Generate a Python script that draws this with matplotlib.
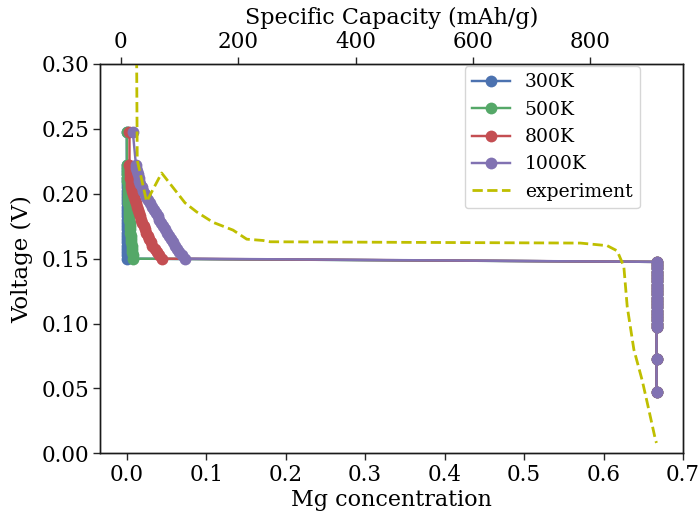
import matplotlib
matplotlib.use("Agg")
import matplotlib.pyplot as plt

plt.rcParams['font.family'] = ['DejaVu Serif']

# ---------------- data ----------------
# simulated voltage grid (V), shared by all temperatures (curve part)
curve_voltage = [0.2475, 0.2225, 0.2200, 0.2175, 0.2150, 0.2125, 0.2100, 0.2075,
                 0.2050, 0.2025, 0.2000, 0.1975, 0.1950, 0.1925, 0.1900, 0.1875,
                 0.1850, 0.1825, 0.1800, 0.1775, 0.1750, 0.1725, 0.1700, 0.1675,
                 0.1650, 0.1625, 0.1600, 0.1575, 0.1550, 0.1525, 0.1500]

conc_300K = [0.0000, 0.0000, 0.0000, 0.0000, 0.0000, 0.0000, 0.0001, 0.0001,
             0.0001, 0.0001, 0.0001, 0.0001, 0.0001, 0.0001, 0.0002, 0.0002,
             0.0002, 0.0002, 0.0002, 0.0002, 0.0003, 0.0003, 0.0003, 0.0003,
             0.0003, 0.0004, 0.0004, 0.0004, 0.0004, 0.0005, 0.0005]
conc_500K = [0.0000, 0.0003, 0.0004, 0.0005, 0.0006, 0.0007, 0.0008, 0.0009,
             0.0010, 0.0012, 0.0014, 0.0016, 0.0018, 0.0020, 0.0022, 0.0024,
             0.0027, 0.0030, 0.0033, 0.0036, 0.0039, 0.0042, 0.0046, 0.0050,
             0.0054, 0.0058, 0.0062, 0.0066, 0.0071, 0.0076, 0.0081]
conc_800K = [0.0034, 0.0034, 0.0036, 0.0038, 0.0041, 0.0044, 0.0048, 0.0053,
             0.0059, 0.0066, 0.0077, 0.0089, 0.0102, 0.0115, 0.0128, 0.0141,
             0.0155, 0.0169, 0.0183, 0.0197, 0.0212, 0.0228, 0.0245, 0.0263,
             0.0282, 0.0302, 0.0323, 0.0350, 0.0378, 0.0408, 0.0442]
conc_1000K = [0.0076, 0.0115, 0.0120, 0.0128, 0.0137, 0.0148, 0.0160, 0.0172,
              0.0186, 0.0200, 0.0223, 0.0246, 0.0270, 0.0293, 0.0317, 0.0340,
              0.0363, 0.0387, 0.0410, 0.0434, 0.0458, 0.0483, 0.0508, 0.0533,
              0.0558, 0.0584, 0.0610, 0.0636, 0.0663, 0.0696, 0.0728]

# fully magnesiated end (Mg2Sn, x = 2/3)
end_voltage = [0.1475, 0.1450, 0.1425, 0.1400, 0.1375, 0.1350, 0.1325, 0.1300,
               0.1275, 0.1250, 0.1225, 0.1200, 0.1175, 0.1150, 0.1125, 0.1100,
               0.1075, 0.1050, 0.1025, 0.1000, 0.0975, 0.0725, 0.0475]
end_conc = [0.6667, 0.6667, 0.6667, 0.6667, 0.6667, 0.6667, 0.6667, 0.6667,
            0.6667, 0.6667, 0.6667, 0.6667, 0.6667, 0.6667, 0.6667, 0.6667,
            0.6667, 0.6667, 0.6667, 0.6667, 0.6667, 0.6667, 0.6667]

labels = ['300K', '500K', '800K', '1000K']
series = [conc_300K, conc_500K, conc_800K, conc_1000K]
colors = ['#4C72B0', '#55A868', '#C44E52', '#8172B2']

# experiment (specific capacity mAh/g, voltage V)
exp_capacity = [10.0, 27.8, 43.8, 69.4, 109.2, 129.1, 156.9, 191.0, 214.4, 242.2,
                254.2, 783.0, 828.5, 845.5, 856.8, 862.6, 873.9, 888.2, 896.7, 910.9, 912.5]
exp_voltage = [1.60, 0.226, 0.194, 0.216, 0.193, 0.186, 0.178, 0.172, 0.165, 0.164,
               0.163, 0.162, 0.160, 0.156, 0.144, 0.113, 0.080, 0.056, 0.039, 0.010, 0.008]

# ---------------- plot ----------------
fig = plt.figure(figsize=(6.99, 5.14), dpi=100)
ax = fig.add_axes([100.3 / 699, (514 - 453.3) / 514, (683 - 100.3) / 699, (453.3 - 64) / 514])

handles = []
for lab, conc, col in zip(labels, series, colors):
    xs = list(conc) + list(end_conc)
    ys = list(curve_voltage) + list(end_voltage)
    h, = ax.plot(xs, ys, '-o', color=col, lw=1.75, ms=8.5, mew=0, label=lab)
    handles.append(h)

ax.set_ylim(0, 0.30)
ax.set_yticks([0.00, 0.05, 0.10, 0.15, 0.20, 0.25, 0.30])
ax.set_yticklabels(['0.00', '0.05', '0.10', '0.15', '0.20', '0.25', '0.30'])
ax.set_xlabel('Mg concentration', fontsize=16, labelpad=2)
ax.set_ylabel('Voltage (V)', fontsize=16.5, labelpad=6)

ax2 = ax.twiny()
h2, = ax2.plot(exp_capacity, exp_voltage, '--', color='y', lw=2.0, label='experiment')
handles.append(h2)
ax2.set_ylim(0, 0.30)
ax2.set_xlabel('Specific Capacity (mAh/g)', fontsize=16, labelpad=5)

for a in (ax, ax2):
    a.tick_params(direction='out', length=5, width=1, labelsize=15.5, colors='0.15',
                  labelcolor='black', pad=3)
    for s in a.spines.values():
        s.set_color('0.1')
        s.set_linewidth(1.0)

leg = ax2.legend(handles=handles, loc='upper right', bbox_to_anchor=(0.929, 1.0),
                 borderaxespad=0.1, fontsize=13.5, handlelength=2.0)

fig.savefig('out.png', dpi=100)
